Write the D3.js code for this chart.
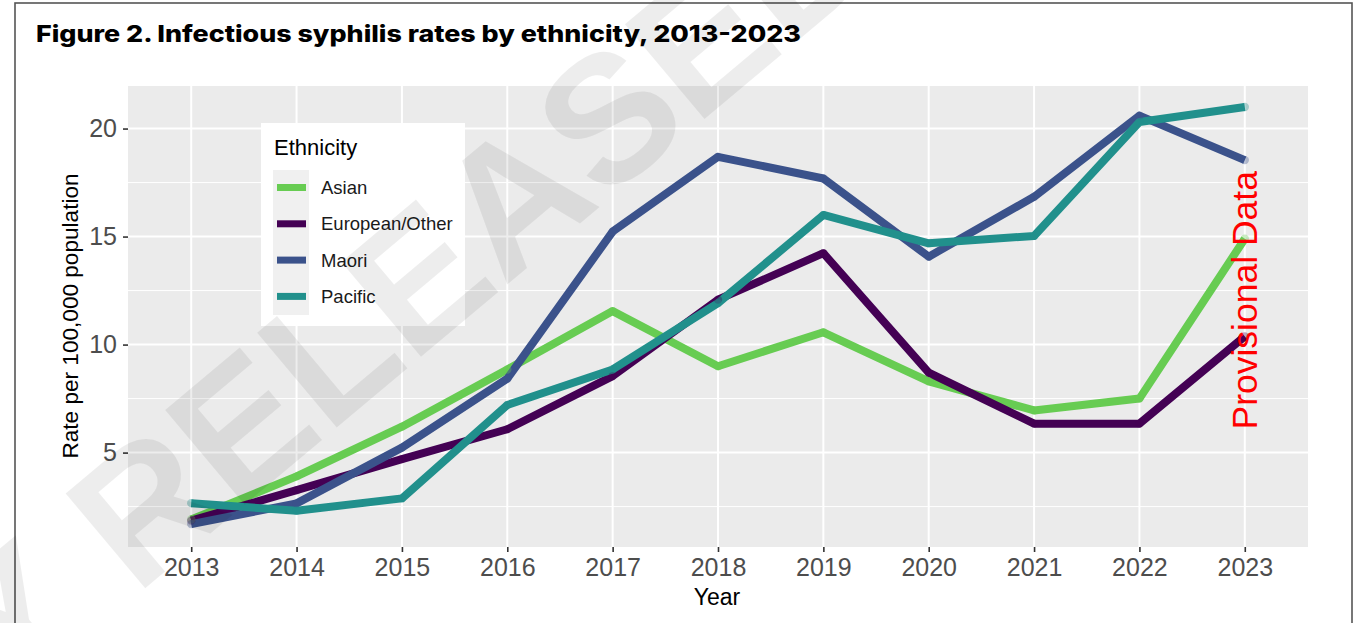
<!DOCTYPE html>
<html>
<head>
<meta charset="utf-8">
<script src="https://cdn.jsdelivr.net/npm/d3@7"></script>
<style>
body{margin:0;background:#fff;}
svg{display:block;font-family:"Liberation Sans",Arial,sans-serif;}
</style>
</head>
<body>
<svg id="myGraph" width="1354" height="623"></svg>
<script>
var years=[2013,2014,2015,2016,2017,2018,2019,2020,2021,2022,2023];
var groups=["Asian","European/Other","Maori","Pacific"];
var asian=[1.9,3.9,6.2,8.85,11.55,9.0,10.57,8.3,6.95,7.5,14.9];
var european=[1.85,3.26,4.7,6.08,8.54,12.08,14.23,8.7,6.34,6.34,10.38];
var maori=[1.69,2.65,5.23,8.42,15.23,18.69,17.69,14.07,16.84,20.6,18.54];
var pacific=[2.66,2.31,2.88,7.2,8.85,11.92,16.0,14.69,15.03,20.3,21.0];
var yTicks=[5,10,15,20];
var yMinor=[2.5,7.5,12.5,17.5];
var colors=["#67cc52","#440154","#3b528b","#21908c"];

var series=[asian,european,maori,pacific];

var svg=d3.select("#myGraph");
var pLeft=128,pRight=1308,pTop=86,pBottom=547;

var x=d3.scaleLinear().domain([2012.4,2023.6]).range([pLeft,pRight]);
var y=d3.scaleLinear().domain([0.63,21.97]).range([pBottom,pTop]);

// frame
svg.append("rect").attr("x",15).attr("y",3).attr("width",1337).attr("height",640)
	.attr("fill","none").attr("stroke","#555").attr("stroke-width",1.6);

svg.append("text").attr("x",36).attr("y",42)
	.attr("font-family","Inter,'Open Sans',sans-serif").attr("font-weight",800)
	.attr("font-size",23).attr("textLength",765).attr("lengthAdjust","spacingAndGlyphs")
	.text("Figure 2. Infectious syphilis rates by ethnicity, 2013-2023");

// panel
svg.append("rect").attr("x",pLeft).attr("y",pTop).attr("width",pRight-pLeft).attr("height",pBottom-pTop).attr("fill","#ebebeb");

svg.selectAll(".minor").data(yMinor).enter().append("line")
	.attr("x1",pLeft).attr("x2",pRight).attr("y1",d=>y(d)).attr("y2",d=>y(d))
	.attr("stroke","#fff").attr("stroke-width",1);
svg.selectAll(".hgrid").data(yTicks).enter().append("line")
	.attr("x1",pLeft).attr("x2",pRight).attr("y1",d=>y(d)).attr("y2",d=>y(d))
	.attr("stroke","#fff").attr("stroke-width",2);
svg.selectAll(".vgrid").data(years).enter().append("line")
	.attr("y1",pTop).attr("y2",pBottom).attr("x1",d=>x(d)).attr("x2",d=>x(d))
	.attr("stroke","#fff").attr("stroke-width",2);

// axes
var xAxis=svg.append("g").attr("transform","translate(0,"+pBottom+")")
	.call(d3.axisBottom(x).tickValues(years).tickFormat(d3.format("d")).tickSize(5).tickPadding(6));
xAxis.select(".domain").remove();
xAxis.selectAll("line").attr("stroke","#333").attr("stroke-width",1.6);
xAxis.selectAll("text").attr("fill","#4d4d4d").attr("font-size",25).attr("font-family","'Liberation Sans',Arial,sans-serif");

var yAxis=svg.append("g").attr("transform","translate("+pLeft+",0)")
	.call(d3.axisLeft(y).tickValues(yTicks).tickSize(5).tickPadding(6));
yAxis.select(".domain").remove();
yAxis.selectAll("line").attr("stroke","#333").attr("stroke-width",1.6);
yAxis.selectAll("text").attr("fill","#4d4d4d").attr("font-size",25).attr("font-family","'Liberation Sans',Arial,sans-serif");

svg.append("text").attr("x",717).attr("y",605).attr("text-anchor","middle")
	.attr("font-size",23).text("Year");
svg.append("text").attr("transform","translate(78,316) rotate(-90)").attr("text-anchor","middle")
	.attr("font-size",22.6).text("Rate per 100,000 population");

// lines
var line=d3.line().x((d,i)=>x(years[i])).y(d=>y(d));
svg.selectAll(".series").data(series).enter().append("path")
	.attr("d",line).attr("fill","none")
	.attr("stroke",(d,i)=>colors[i]).attr("stroke-width",8)
	.attr("stroke-linejoin","round");

series.forEach(function(s,k){
	svg.selectAll(".pt"+k).data(s).enter().append("circle")
		.attr("cx",(d,i)=>x(years[i])).attr("cy",d=>y(d)).attr("r",4.2)
		.attr("fill",colors[k]).attr("fill-opacity",0.35);
});

svg.append("text").attr("transform","translate(1257,"+y(12.05)+") rotate(-90)")
	.attr("text-anchor","middle").attr("font-size",35.5).attr("fill","#ff0000")
	.text("Provisional Data");

// legend
var lg=svg.append("g");
lg.append("rect").attr("x",261).attr("y",123).attr("width",204).attr("height",203).attr("fill","#fff");
lg.append("text").attr("x",274).attr("y",155).attr("font-size",22).attr("fill","#000").text("Ethnicity");
lg.append("rect").attr("x",273).attr("y",170).attr("width",36).attr("height",145).attr("fill","#f0f0f0");
var items=lg.selectAll(".item").data(groups).enter().append("g")
	.attr("transform",(d,i)=>"translate(0,"+(187.5+i*36.3)+")");
items.append("line").attr("x1",277).attr("x2",306).attr("stroke",(d,i)=>colors[i]).attr("stroke-width",7);
items.append("text").attr("x",321).attr("y",6.5).attr("font-size",18.5).attr("fill","#1a1a1a").text(d=>d);

// watermark
var wm=svg.append("g").attr("transform","translate(136,596) rotate(-40)")
	.attr("font-family","'Liberation Sans',Arial,sans-serif").attr("font-weight",700)
	.attr("font-size",180).attr("fill","#000").attr("fill-opacity",0.07);
wm.append("text").attr("x",0).text("RELEASED");
wm.append("text").attr("x",-50).attr("text-anchor","end").text("PROACTIVELY");
</script>
</body>
</html>
